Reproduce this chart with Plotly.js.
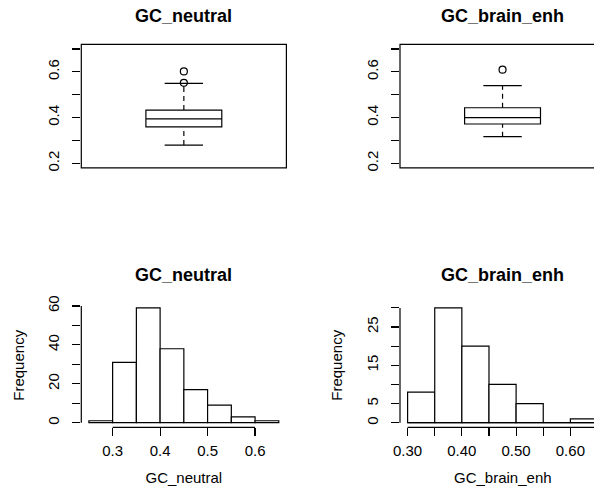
<!DOCTYPE html>
<html>
<head>
<meta charset="utf-8">
<script src="https://cdn.plot.ly/plotly-3.0.1.min.js"></script>
<style>html,body{margin:0;padding:0;background:#fff;}#chart{width:594px;height:489px;}</style>
</head>
<body>
<div id="chart"></div>
<script>
// ---- data ----
var titles = ['GC_neutral', 'GC_brain_enh'];
// boxplot statistics: lower whisker, Q1, median, Q3, upper whisker
var neutralBox = [0.280, 0.359, 0.394, 0.433, 0.550];
var neutralOutliers = [0.552, 0.602];
var brainBox = [0.3165, 0.372, 0.3996, 0.443, 0.5396];
var brainOutliers = [0.6096];
// histogram breaks and counts
var neutralBreaks = [0.25, 0.30, 0.35, 0.40, 0.45, 0.50, 0.55, 0.60, 0.65];
var neutralCounts = [1, 31, 59, 38, 17, 9, 3, 1];
var brainBreaks = [0.30, 0.35, 0.40, 0.45, 0.50, 0.55, 0.60, 0.65];
var brainCounts = [8, 30, 20, 10, 5, 0, 1];
// tick values / labels
var boxTickVals = [0.2, 0.3, 0.4, 0.5, 0.6, 0.7];
var boxTickText = ['0.2', '', '0.4', '', '0.6', ''];
var neutralXTickVals = [0.3, 0.4, 0.5, 0.6];
var neutralXTickText = ['0.3', '0.4', '0.5', '0.6'];
var neutralYTickVals = [0, 10, 20, 30, 40, 50, 60];
var neutralYTickText = ['0', '', '20', '', '40', '', '60'];
var brainXTickVals = [0.30, 0.35, 0.40, 0.45, 0.50, 0.55, 0.60, 0.65];
var brainXTickText = ['0.30', '', '0.40', '', '0.50', '', '0.60', ''];
var brainYTickVals = [0, 5, 10, 15, 20, 25, 30];
var brainYTickText = ['0', '5', '', '15', '', '25', ''];

// ---- layout geometry (pixels) ----
var W = 594, H = 489;
var leftX0 = 81.3, leftX1 = 286.4, rightX0 = 400, rightX1 = 605.1;
var boxTop = 44.4, boxBot = 167.9, histTop = 303.3, histBot = 427.3;
function px(x) { return x / W; }
function py(y) { return 1 - y / H; }
function clipRange(r0, r1) { // range visible when right region is cut at the window edge
  return [r0, r0 + (r1 - r0) * (W - rightX0) / (rightX1 - rightX0)];
}
function ext(lo, hi) { var d = (hi - lo) * 0.04; return [lo - d, hi + d]; }

var FONT = 'Liberation Sans, Arial, Helvetica, sans-serif';
var LW = 1.2;
var boxWidth = 0.37, capHalf = 0.0935;

function boxTraces(stats, outl, xa, ya) {
  return [
    {type: 'scatter', mode: 'lines', xaxis: xa, yaxis: ya, hoverinfo: 'skip', showlegend: false,
     x: [0, 0, null, 0, 0], y: [stats[0], stats[1], null, stats[3], stats[4]],
     line: {color: 'black', width: LW, dash: '5px,4px'}},
    {type: 'scatter', mode: 'lines', xaxis: xa, yaxis: ya, hoverinfo: 'skip', showlegend: false,
     x: [-capHalf, capHalf, null, -capHalf, capHalf], y: [stats[0], stats[0], null, stats[4], stats[4]],
     line: {color: 'black', width: LW}},
    {type: 'box', xaxis: xa, yaxis: ya, showlegend: false, x: [0],
     q1: [stats[1]], median: [stats[2]], q3: [stats[3]], lowerfence: [stats[1]], upperfence: [stats[3]],
     width: boxWidth, whiskerwidth: 0, boxpoints: false, fillcolor: 'white',
     line: {color: 'black', width: LW}},
    {type: 'scatter', mode: 'markers', xaxis: xa, yaxis: ya, showlegend: false,
     x: outl.map(function () { return 0; }), y: outl,
     marker: {symbol: 'circle-open', size: 7, color: 'black', line: {width: LW, color: 'black'}}}
  ];
}
function histTrace(breaks, counts, xa, ya) {
  return {type: 'bar', xaxis: xa, yaxis: ya, showlegend: false,
    x: breaks.slice(0, -1), y: counts, offset: 0,
    width: breaks.slice(1).map(function (b, i) { return b - breaks[i]; }),
    marker: {color: 'white', line: {color: 'black', width: LW}}};
}

var data = [].concat(
  boxTraces(neutralBox, neutralOutliers, 'x', 'y'),
  boxTraces(brainBox, brainOutliers, 'x2', 'y2'),
  [histTrace(neutralBreaks, neutralCounts, 'x3', 'y3'),
   histTrace(brainBreaks, brainCounts, 'x4', 'y4')]
);

var yTick = {ticks: 'outside', ticklen: 8, tickwidth: LW, tickcolor: 'black', tickangle: -90,
  showgrid: false, zeroline: false, showline: false, ticklabelstandoff: 7,
  tickfont: {family: FONT, size: 15, color: 'black'}, fixedrange: true};
var xTick = {ticks: 'outside', ticklen: 8, tickwidth: LW, tickcolor: 'black',
  showgrid: false, zeroline: false, showline: false, ticklabelstandoff: 2,
  tickfont: {family: FONT, size: 15, color: 'black'}, fixedrange: true};
function merge(a, b) { var o = {}; for (var k in a) o[k] = a[k]; for (var k2 in b) o[k2] = b[k2]; return o; }

var neutralYR = ext(0, Math.max.apply(null, neutralCounts));
var brainYR = ext(0, Math.max.apply(null, brainCounts));
var boxYR = ext(0.2, 0.7);

var layout = {
  width: W, height: H, margin: {l: 0, r: 0, t: 0, b: 0},
  paper_bgcolor: 'white', plot_bgcolor: 'white', showlegend: false,
  font: {family: FONT, size: 15, color: 'black'},
  bargap: 0,
  xaxis: {domain: [px(leftX0), px(leftX1)], range: [-0.5, 0.5], visible: false, anchor: 'y', fixedrange: true},
  yaxis: merge(yTick, {domain: [py(boxBot), py(boxTop)], range: boxYR, tickvals: boxTickVals, ticktext: boxTickText, anchor: 'x'}),
  xaxis2: {domain: [px(rightX0), 1], range: clipRange(-0.5, 0.5), visible: false, anchor: 'y2', fixedrange: true},
  yaxis2: merge(yTick, {domain: [py(boxBot), py(boxTop)], range: boxYR, tickvals: boxTickVals, ticktext: boxTickText, anchor: 'x2'}),
  xaxis3: merge(xTick, {domain: [px(leftX0), px(leftX1)], range: ext(neutralBreaks[0], neutralBreaks[neutralBreaks.length - 1]),
    tickvals: neutralXTickVals, ticktext: neutralXTickText, anchor: 'y3',
    title: {text: 'GC_neutral', standoff: 14, font: {family: FONT, size: 15, color: 'black'}}}),
  yaxis3: merge(yTick, {domain: [py(histBot), py(histTop)], range: neutralYR, tickvals: neutralYTickVals, ticktext: neutralYTickText, anchor: 'x3',
    title: {text: 'Frequency', standoff: 17, font: {family: FONT, size: 15, color: 'black'}}}),
  xaxis4: merge(xTick, {domain: [px(rightX0), 1],
    range: (function () { var r = ext(brainBreaks[0], brainBreaks[brainBreaks.length - 1]); return clipRange(r[0], r[1]); })(),
    tickvals: brainXTickVals, ticktext: brainXTickText, anchor: 'y4'}),
  yaxis4: merge(yTick, {domain: [py(histBot), py(histTop)], range: brainYR, tickvals: brainYTickVals, ticktext: brainYTickText, anchor: 'x4',
    title: {text: 'Frequency', standoff: 17, font: {family: FONT, size: 15, color: 'black'}}}),
  shapes: [
    {type: 'rect', xref: 'x domain', yref: 'y domain', x0: 0, x1: 1, y0: 0, y1: 1, line: {color: 'black', width: LW}},
    {type: 'rect', xref: 'x2 domain', yref: 'y2 domain', x0: 0, x1: (rightX1 - rightX0) / (W - rightX0), y0: 0, y1: 1, line: {color: 'black', width: LW}},
    {type: 'line', xref: 'x3 domain', yref: 'y3', x0: 0, x1: 0, y0: neutralYTickVals[0], y1: neutralYTickVals[neutralYTickVals.length - 1], line: {color: 'black', width: LW}},
    {type: 'line', xref: 'x3', yref: 'y3 domain', x0: neutralXTickVals[0], x1: neutralXTickVals[neutralXTickVals.length - 1], y0: 0, y1: 0, line: {color: 'black', width: LW}},
    {type: 'line', xref: 'x4 domain', yref: 'y4', x0: 0, x1: 0, y0: brainYTickVals[0], y1: brainYTickVals[brainYTickVals.length - 1], line: {color: 'black', width: LW}},
    {type: 'line', xref: 'x4', yref: 'y4 domain', x0: brainXTickVals[0], x1: brainXTickVals[brainXTickVals.length - 1], y0: 0, y1: 0, line: {color: 'black', width: LW}},
    {type: 'line', xref: 'x4', yref: 'y4', x0: brainBreaks[0], x1: brainBreaks[brainBreaks.length - 1], y0: 0, y1: 0, line: {color: 'black', width: LW}}
  ],
  annotations: [
    {text: '<b>' + titles[0] + '</b>', xref: 'paper', yref: 'paper', x: px((leftX0 + leftX1) / 2), y: py(16), xanchor: 'center', yanchor: 'middle', showarrow: false, font: {family: FONT, size: 18, color: 'black'}},
    {text: '<b>' + titles[1] + '</b>', xref: 'paper', yref: 'paper', x: px((rightX0 + rightX1) / 2), y: py(16), xanchor: 'center', yanchor: 'middle', showarrow: false, font: {family: FONT, size: 18, color: 'black'}},
    {text: '<b>' + titles[0] + '</b>', xref: 'paper', yref: 'paper', x: px((leftX0 + leftX1) / 2), y: py(275), xanchor: 'center', yanchor: 'middle', showarrow: false, font: {family: FONT, size: 18, color: 'black'}},
    {text: '<b>' + titles[1] + '</b>', xref: 'paper', yref: 'paper', x: px((rightX0 + rightX1) / 2), y: py(275), xanchor: 'center', yanchor: 'middle', showarrow: false, font: {family: FONT, size: 18, color: 'black'}},
    {text: titles[1], xref: 'paper', yref: 'paper', x: px((rightX0 + rightX1) / 2), y: py(477), xanchor: 'center', yanchor: 'middle', showarrow: false, font: {family: FONT, size: 15, color: 'black'}}
  ]
};

Plotly.newPlot('chart', data, layout, {displayModeBar: false, staticPlot: true});
</script>
</body>
</html>
